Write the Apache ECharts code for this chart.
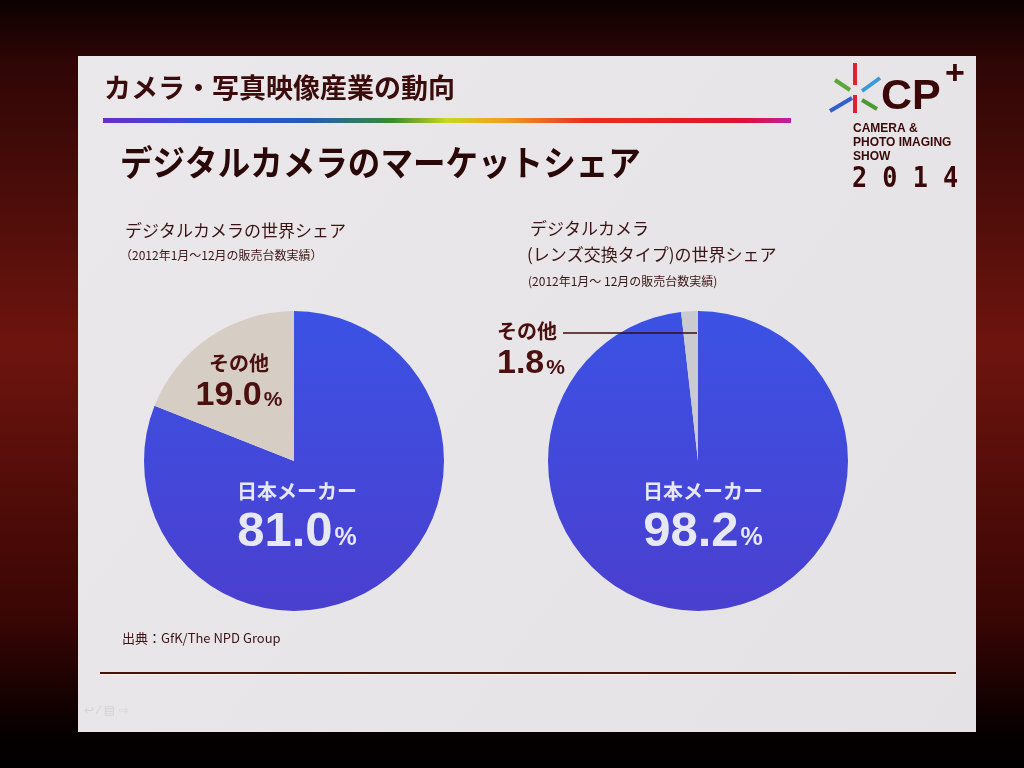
<!DOCTYPE html>
<html><head><meta charset="utf-8">
<script src="https://cdn.jsdelivr.net/npm/echarts@6/dist/echarts.min.js"></script>
<style>html,body{margin:0;padding:0;background:#000;}#c{width:1024px;height:768px;}</style>
</head><body><div id="c"></div>
<script>
// ---- data ----
const categories = ['日本メーカー', 'その他'];
const worldShare = [81.0, 19.0];          // デジタルカメラの世界シェア
const lensShare = [98.2, 1.8];            // レンズ交換タイプの世界シェア
const pageTitle = 'カメラ・写真映像産業の動向';
const mainTitle = 'デジタルカメラのマーケットシェア';
const sub1 = ['デジタルカメラの世界シェア', '（2012年1月～12月の販売台数実績）'];
const sub2 = ['デジタルカメラ', '(レンズ交換タイプ)の世界シェア', '(2012年1月～ 12月の販売台数実績)'];
const source = '出典：GfK/The NPD Group';

const JP = '"Noto Sans CJK JP", "Noto Sans", sans-serif';
const NUM = '"Liberation Sans", Roboto, sans-serif';
const dark = '#3a0c0c';
const blueFill = {type:'linear',x:0,y:0,x2:0,y2:1,colorStops:[{offset:0,color:'#3b52e4'},{offset:1,color:'#4a3fcf'}]};

function mkData(vals, greyColor){
  return categories.map((n,i)=>({name:n, value:vals[i],
    itemStyle:{color: i===0 ? blueFill : greyColor}}));
}
const richInside = {
  n:{fontFamily:JP, fontWeight:'bold', fontSize:20, color:'#e6e8f4', lineHeight:32, align:'center'},
  v:{fontFamily:NUM, fontWeight:'bold', fontSize:49, color:'#e6e8f4', lineHeight:50},
  p:{fontFamily:NUM, fontWeight:'bold', fontSize:25, color:'#e6e8f4', lineHeight:50, padding:[12,0,0,2]},
  gn:{fontFamily:JP, fontWeight:'bold', fontSize:20, color:'#4a0f0f', lineHeight:30},
  gv:{fontFamily:NUM, fontWeight:'bold', fontSize:34, color:'#4a0f0f', lineHeight:36},
  gp:{fontFamily:NUM, fontWeight:'bold', fontSize:21, color:'#4a0f0f', lineHeight:36, padding:[8,0,0,2]}
};
function fmt(p){
  const v = p.value.toFixed(1);
  return p.dataIndex===0 ? '{n|'+p.name+'}\n{v|'+v+'}{p|%}' : '{gn|'+p.name+'}\n{gv|'+v+'}{gp|%}';
}
function pie(center, vals, grey, layouts){
  return {
    type:'pie', radius:150, center:center, startAngle:90, clockwise:true,
    silent:true, animation:false, data:mkData(vals, grey),
    label:{show:true, position:'inside', formatter:fmt, rich:richInside},
    labelLine:{show:false},
    labelLayout:function(p){ return layouts[p.dataIndex]; }
  };
}

const chart = echarts.init(document.getElementById('c'));
chart.setOption({
  backgroundColor:{type:'linear',x:0,y:0,x2:0,y2:1,colorStops:[
    {offset:0,color:'#0c0101'},{offset:0.08,color:'#2e0605'},{offset:0.45,color:'#6e140e'},
    {offset:0.8,color:'#3a0604'},{offset:0.95,color:'#080000'},{offset:1,color:'#000'}]},
  graphic:[
    {type:'rect', z:-10, shape:{x:78,y:56,width:898,height:676},
      style:{fill:{type:'linear',x:0,y:0,x2:1,y2:1,colorStops:[{offset:0,color:'#ebe8eb'},{offset:1,color:'#e5e2e6'}]}}},
    {type:'text', left:104, top:74, style:{text:pageTitle, font:'bold 27px '+JP, fill:dark}},
    {type:'rect', shape:{x:103,y:118,width:688,height:5},
      style:{fill:{type:'linear',x:0,y:0,x2:1,y2:0,colorStops:[
        {offset:0,color:'#6a2cc8'},{offset:0.15,color:'#2e50e0'},{offset:0.3,color:'#2a58b8'},
        {offset:0.42,color:'#3a8a30'},{offset:0.5,color:'#c8d820'},{offset:0.58,color:'#f0a020'},
        {offset:0.7,color:'#e83020'},{offset:0.93,color:'#e01030'},{offset:1,color:'#c020a0'}]}}},
    {type:'text', x:120, y:145, scaleX:0.93, style:{text:mainTitle, font:'bold 35px '+JP, fill:'#2a0808',
      shadowColor:'rgba(0,0,0,0.35)', shadowBlur:2, shadowOffsetX:2, shadowOffsetY:2}},
    // logo
    {type:'line', shape:{x1:855,y1:63,x2:855,y2:85}, style:{stroke:'#e02030',lineWidth:4}},
    {type:'line', shape:{x1:855,y1:95,x2:855,y2:113}, style:{stroke:'#e02030',lineWidth:4}},
    {type:'line', shape:{x1:835,y1:80,x2:850,y2:90}, style:{stroke:'#5aa838',lineWidth:4}},
    {type:'line', shape:{x1:862,y1:91,x2:880,y2:78}, style:{stroke:'#3a9ad8',lineWidth:4}},
    {type:'line', shape:{x1:830,y1:111,x2:852,y2:98}, style:{stroke:'#3060d0',lineWidth:4}},
    {type:'line', shape:{x1:862,y1:100,x2:877,y2:109}, style:{stroke:'#4a9a30',lineWidth:4}},
    {type:'text', left:881, top:76, style:{text:'CP', font:'bold 43px "Liberation Sans", sans-serif', fill:'#3a0808'}},
    {type:'text', left:945, top:58, style:{text:'+', font:'bold 34px "Liberation Sans", sans-serif', fill:'#3a0808'}},
    {type:'text', left:853, top:122, style:{text:'CAMERA &\nPHOTO IMAGING\nSHOW', font:'bold 12px "Liberation Sans Narrow", "Liberation Sans", sans-serif', fill:'#3a0808', lineHeight:14}},
    {type:'text', x:852, y:166, scaleX:0.9, style:{text:'2 0 1 4', font:'bold 28px "DejaVu Sans Mono", monospace', fill:'#3a0808'}},
    // subtitles
    {type:'text', left:125, top:222, style:{text:sub1[0], font:'17px '+JP, fill:'#3a1414'}},
    {type:'text', left:120, top:249, style:{text:sub1[1], font:'12px '+JP, fill:'#3a1414'}},
    {type:'text', left:530, top:220, style:{text:sub2[0], font:'17px '+JP, fill:'#3a1414'}},
    {type:'text', left:527, top:246, style:{text:sub2[1], font:'17px '+JP, fill:'#3a1414'}},
    {type:'text', left:528, top:275, style:{text:sub2[2], font:'12px '+JP, fill:'#3a1414'}},
    // leader line for small slice
    {type:'line', z:100, shape:{x1:563,y1:333,x2:697,y2:333}, style:{stroke:'#3a0c0c',lineWidth:1.6}},
    // source & bottom rule
    {type:'text', left:122, top:632, style:{text:source, font:'13px '+JP, fill:'#3a1414'}},
    {type:'rect', shape:{x:100,y:672,width:856,height:2}, style:{fill:'#4a1008'}},
    {type:'rect', shape:{x:100,y:674,width:856,height:1}, style:{fill:'#f6f2f2'}},
    {type:'text', left:84, top:705, style:{text:'↩ ⁄ ▤ ⇨', font:'12px "DejaVu Sans"', fill:'#d4d2d6'}}
  ],
  series:[
    pie([294,461], worldShare, '#d6cdc5', [
      {x:297, y:516, align:'center', verticalAlign:'middle'},
      {x:239, y:381, align:'center', verticalAlign:'middle'}]),
    pie([698,461], lensShare, '#c9cbd1', [
      {x:703, y:516, align:'center', verticalAlign:'middle'},
      {x:497, y:349, align:'left', verticalAlign:'middle'}])
  ]
});
</script></body></html>
